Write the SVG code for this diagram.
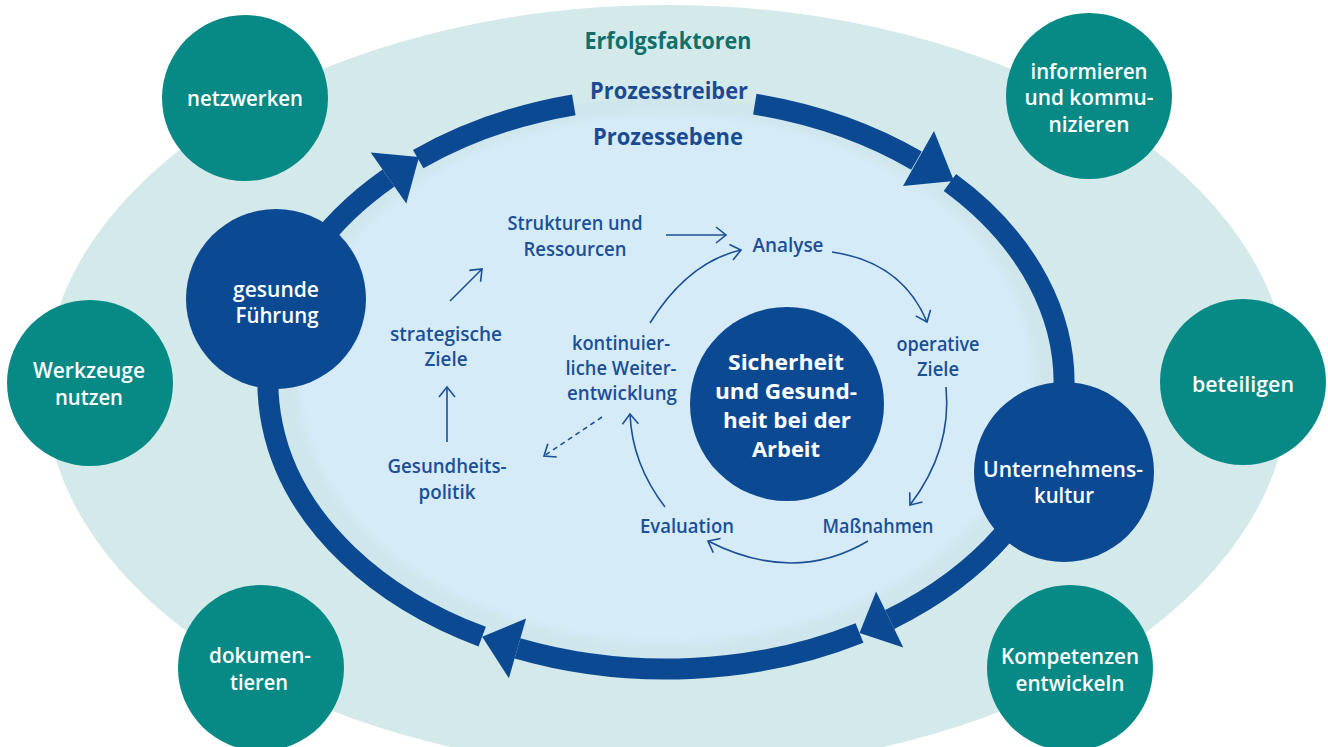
<svg xmlns="http://www.w3.org/2000/svg" width="1328" height="747" viewBox="0 0 1328 747">
  <defs>
    <style>
      .teal{fill:#078a86}
      .dark{fill:#0b4a93}
      .ring{fill:none;stroke:#0b4a93;stroke-width:21;stroke-linecap:butt}
      .head{fill:#0b4a93}
      .wt{font-family:"Open Sans","Noto Sans","Liberation Sans",sans-serif;font-size:21px;font-weight:600;fill:#ffffff;text-anchor:middle}
      .wb{font-family:"Open Sans","Noto Sans","Liberation Sans",sans-serif;font-size:22px;font-weight:700;fill:#ffffff;text-anchor:middle}
      .bt{font-family:"Open Sans","Noto Sans","Liberation Sans",sans-serif;font-size:19px;font-weight:600;fill:#1b4f96;text-anchor:middle}
      .hd{font-family:"Open Sans","Noto Sans","Liberation Sans",sans-serif;font-size:23px;font-weight:700;text-anchor:middle}
      .thin{fill:none;stroke:#1b4f96;stroke-width:1.6}
      .dash{stroke-dasharray:5 4}
    </style>
    <marker id="ah" viewBox="-12 -10 14 20" refX="0" refY="0" markerWidth="14" markerHeight="20" markerUnits="userSpaceOnUse" orient="auto">
      <path d="M-10,-8 L0,0 L-10,8" fill="none" stroke="#1b4f96" stroke-width="1.6"/>
    </marker>
    <filter id="soft" x="-10%" y="-10%" width="120%" height="120%">
      <feGaussianBlur stdDeviation="4"/>
    </filter>
  </defs>

  <!-- background layers -->
  <g id="background">
    <ellipse cx="667" cy="388" rx="622" ry="383" fill="#d4e9e9"/>
    <ellipse cx="666" cy="383" rx="398" ry="286" fill="#cfe6ec"/>
    <ellipse cx="666" cy="378" rx="368" ry="265" fill="#d5ebf8" filter="url(#soft)"/>
  </g>

  <!-- Erfolgsfaktoren (outer teal circles) -->
  <g id="node-netzwerken">
    <circle class="teal" cx="245" cy="98" r="83"/>
    <text class="wt" x="245" y="106" textLength="116" lengthAdjust="spacingAndGlyphs">netzwerken</text>
  </g>
  <g id="node-informieren">
    <circle class="teal" cx="1089" cy="96" r="83"/>
    <text class="wt" x="1089" y="79" textLength="117" lengthAdjust="spacingAndGlyphs">informieren</text>
    <text class="wt" x="1089" y="105" textLength="129" lengthAdjust="spacingAndGlyphs">und kommu-</text>
    <text class="wt" x="1089" y="132" textLength="81" lengthAdjust="spacingAndGlyphs">nizieren</text>
  </g>
  <g id="node-werkzeuge">
    <circle class="teal" cx="90" cy="383" r="83"/>
    <text class="wt" x="89" y="378" textLength="112" lengthAdjust="spacingAndGlyphs">Werkzeuge</text>
    <text class="wt" x="89" y="405" textLength="68" lengthAdjust="spacingAndGlyphs">nutzen</text>
  </g>
  <g id="node-beteiligen">
    <circle class="teal" cx="1243" cy="382" r="83"/>
    <text class="wt" x="1243" y="392" textLength="102" lengthAdjust="spacingAndGlyphs">beteiligen</text>
  </g>
  <g id="node-dokumentieren">
    <circle class="teal" cx="261" cy="668" r="83"/>
    <text class="wt" x="260" y="663" textLength="102" lengthAdjust="spacingAndGlyphs">dokumen-</text>
    <text class="wt" x="259" y="690" textLength="58" lengthAdjust="spacingAndGlyphs">tieren</text>
  </g>
  <g id="node-kompetenzen">
    <circle class="teal" cx="1070" cy="668" r="83"/>
    <text class="wt" x="1070" y="664" textLength="138" lengthAdjust="spacingAndGlyphs">Kompetenzen</text>
    <text class="wt" x="1070" y="691" textLength="109" lengthAdjust="spacingAndGlyphs">entwickeln</text>
  </g>

  <!-- headings -->
  <g id="labels">
    <text class="hd" x="668" y="49" fill="#0e6f6b" textLength="167" lengthAdjust="spacingAndGlyphs">Erfolgsfaktoren</text>
    <text class="hd" x="669" y="99" fill="#1b4a93" textLength="158" lengthAdjust="spacingAndGlyphs">Prozesstreiber</text>
    <text class="hd" x="668" y="145" fill="#1b4a93" textLength="150" lengthAdjust="spacingAndGlyphs">Prozessebene</text>
  </g>

  <!-- Prozesstreiber ring with arrows -->
  <g id="connectors-ring">
    <path class="ring" d="M482.2,636.7 A398,286 0 0 1 388.5,178.0"/>
    <path class="ring" d="M418.2,159.2 A398,286 0 0 1 573.8,104.8"/>
    <path class="ring" d="M754.8,104.2 A398,286 0 0 1 916.5,160.7"/>
    <path class="ring" d="M949.9,182.5 A398,286 0 0 1 889.7,619.5"/>
    <path class="ring" d="M859.5,632.9 A398,286 0 0 1 517.5,648.4"/>
    <polygon class="head" points="370.7,152.6 406.3,203.4 419,157"/>
    <polygon class="head" points="934,131 903,186 954,181"/>
    <polygon class="head" points="876.1,591.6 903.3,647.4 859.5,632.9"/>
    <polygon class="head" points="526.1,618.6 508.9,678.2 482.2,636.7"/>
  </g>

  <!-- Prozesstreiber nodes (dark blue) -->
  <g id="node-fuehrung">
    <circle class="dark" cx="276" cy="299" r="90"/>
    <text class="wt" x="276" y="297" textLength="86" lengthAdjust="spacingAndGlyphs">gesunde</text>
    <text class="wt" x="277" y="323" textLength="83" lengthAdjust="spacingAndGlyphs">Führung</text>
  </g>
  <g id="node-kultur">
    <circle class="dark" cx="1064" cy="472" r="90"/>
    <text class="wt" x="1063" y="477" textLength="160" lengthAdjust="spacingAndGlyphs">Unternehmens-</text>
    <text class="wt" x="1064" y="503" textLength="60" lengthAdjust="spacingAndGlyphs">kultur</text>
  </g>
  <g id="node-sicherheit">
    <circle class="dark" cx="787" cy="404" r="97"/>
    <text class="wb" x="786" y="370" textLength="116" lengthAdjust="spacingAndGlyphs">Sicherheit</text>
    <text class="wb" x="786" y="399" textLength="142" lengthAdjust="spacingAndGlyphs">und Gesund-</text>
    <text class="wb" x="787" y="428" textLength="128" lengthAdjust="spacingAndGlyphs">heit bei der</text>
    <text class="wb" x="786" y="457" textLength="68" lengthAdjust="spacingAndGlyphs">Arbeit</text>
  </g>

  <!-- process level nodes -->
  <g id="node-strukturen">
    <text class="bt" x="575" y="230" textLength="135" lengthAdjust="spacingAndGlyphs">Strukturen und</text>
    <text class="bt" x="575" y="256" textLength="103" lengthAdjust="spacingAndGlyphs">Ressourcen</text>
  </g>
  <g id="node-analyse">
    <text class="bt" x="788" y="252" textLength="71" lengthAdjust="spacingAndGlyphs">Analyse</text>
  </g>
  <g id="node-strategische">
    <text class="bt" x="446" y="341" textLength="112" lengthAdjust="spacingAndGlyphs">strategische</text>
    <text class="bt" x="446" y="366" textLength="43" lengthAdjust="spacingAndGlyphs">Ziele</text>
  </g>
  <g id="node-kontinuierlich">
    <text class="bt" x="621" y="350" textLength="98" lengthAdjust="spacingAndGlyphs">kontinuier-</text>
    <text class="bt" x="621" y="375" textLength="111" lengthAdjust="spacingAndGlyphs">liche Weiter-</text>
    <text class="bt" x="622" y="400" textLength="110" lengthAdjust="spacingAndGlyphs">entwicklung</text>
  </g>
  <g id="node-operative">
    <text class="bt" x="938" y="351" textLength="83" lengthAdjust="spacingAndGlyphs">operative</text>
    <text class="bt" x="938" y="376" textLength="42" lengthAdjust="spacingAndGlyphs">Ziele</text>
  </g>
  <g id="node-gesundheitspolitik">
    <text class="bt" x="447" y="473" textLength="119" lengthAdjust="spacingAndGlyphs">Gesundheits-</text>
    <text class="bt" x="447" y="499" textLength="57" lengthAdjust="spacingAndGlyphs">politik</text>
  </g>
  <g id="node-evaluation">
    <text class="bt" x="687" y="533" textLength="94" lengthAdjust="spacingAndGlyphs">Evaluation</text>
  </g>
  <g id="node-massnahmen">
    <text class="bt" x="878" y="533" textLength="111" lengthAdjust="spacingAndGlyphs">Maßnahmen</text>
  </g>

  <!-- thin process connectors -->
  <g id="connectors">
    <path class="thin" d="M666,235 L726,235" marker-end="url(#ah)"/>
    <path class="thin" d="M450,301 L482,269" marker-end="url(#ah)"/>
    <path class="thin" d="M447,442 L447,387" marker-end="url(#ah)"/>
    <path class="thin" d="M650,323 Q688,262 741,250" marker-end="url(#ah)"/>
    <path class="thin" d="M832,252 Q902,262 927,322" marker-end="url(#ah)"/>
    <path class="thin" d="M946,387 Q952,450 910,505" marker-end="url(#ah)"/>
    <path class="thin" d="M868,541 Q794,585 708,541" marker-end="url(#ah)"/>
    <path class="thin" d="M665,507 Q632,464 630,414" marker-end="url(#ah)"/>
    <path class="thin dash" d="M602,417 L544,456" marker-end="url(#ah)"/>
  </g>
</svg>
